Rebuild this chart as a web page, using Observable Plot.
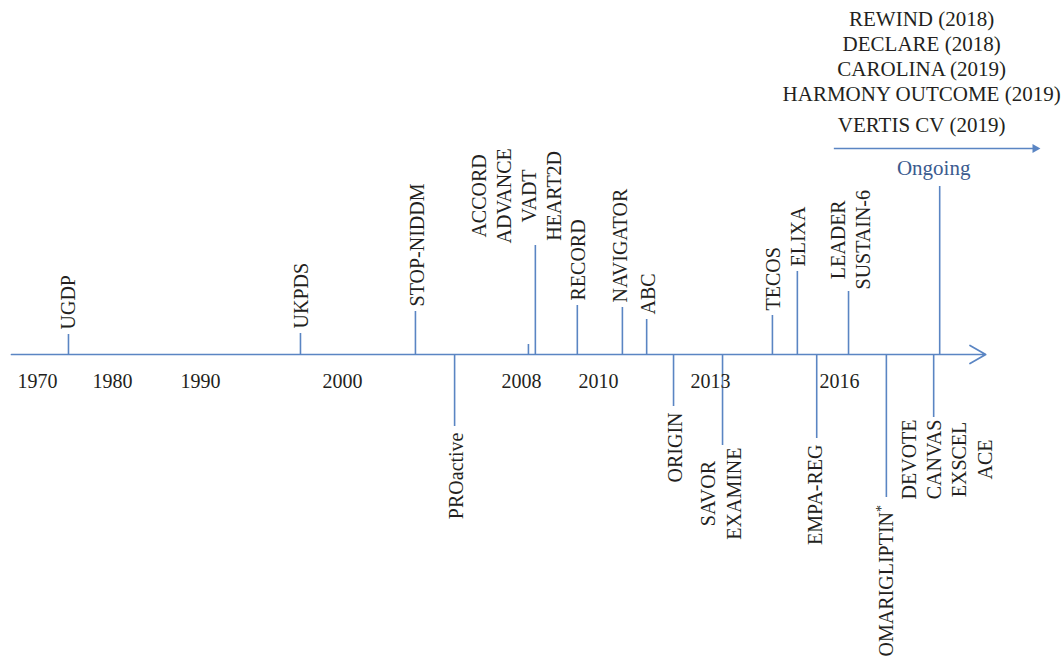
<!DOCTYPE html>
<html>
<head>
<meta charset="utf-8">
<script src="https://cdn.jsdelivr.net/npm/d3@7"></script>
<script src="https://cdn.jsdelivr.net/npm/@observablehq/plot@0.6"></script>
<style>
  body { margin: 0; background: #fff; }
  #chart svg { display: block; }
</style>
</head>
<body>
<div id="chart"></div>
<script>
// ---- Data ----
// Trials (a "\n" separates trials that share one stem)
const trialLabels = [
  "UGDP", "UKPDS", "STOP-NIDDM", "PROactive", "",
  "ACCORD\nADVANCE\nVADT\nHEART2D", "RECORD", "NAVIGATOR", "ABC",
  "ORIGIN", "SAVOR\nEXAMINE", "TECOS", "ELIXA", "EMPA-REG",
  "LEADER\nSUSTAIN-6", "OMARIGLIPTIN*", "DEVOTE\nCANVAS\nEXSCEL\nACE"
];
// position of each stem on the timeline (years)
const trialYears = [
  1974.13, 1997.04, 2003.26, 2005.01, 2008.18,
  2008.36, 2009.45, 2010.64, 2011.29,
  2012.01, 2013.28, 2014.44, 2015.02, 2015.47,
  2016.21, 2017.09, 2018.19
];
// stem height (positive = above the timeline, negative = below)
const trialLevels = [
  20, 21, 43, -72, 10,
  109, 49, 47, 35,
  -52, -91, 39, 83, -84,
  63, -143, -63
];
// timeline year where each label block is centred
const labelYears = [
  1973.9, 1997.0, 2003.26, 2005.03, 2008.18,
  2007.73, 2009.45, 2010.54, 2011.29,
  2012.01, 2013.22, 2014.44, 2015.02, 2015.40,
  2016.24, 2017.05, 2018.47
];

// timeline tick labels and where they sit on the (non-linear) axis
const tickYears = [1970, 1980, 1990, 2000, 2008, 2010, 2013, 2016];
const tickPixels = [37, 112, 200, 342, 521, 598, 710, 839];

// ongoing trials
const ongoingLabel = "Ongoing";
const ongoingYear = 2018.33;
const ongoingLevel = 168;
const ongoingLabelYear = 2018.19;
const ongoingArrowSpan = [2015.88, 2020.67];
const ongoingListYear = 2017.91;
const ongoingTrials = [
  "REWIND (2018)", "DECLARE (2018)", "CAROLINA (2019)",
  "HARMONY OUTCOME (2019)", "VERTIS CV (2019)"
];
const axisSpan = [1966.53, 2019.40];

// ---- Styling ----
const FONT = "Liberation Serif";
const FS = 20;
const FS_TOP = 21;
const LINE = "#5a85c3";
const TEXT = "#231f20";
const ONGOING = "#3b5b8f";

// measure text to place label blocks next to their stems
const ctx = document.createElement("canvas").getContext("2d");
ctx.font = `${FS}px "${FONT}"`;
const maxWidth = s => d3.max(s.split("\n"), l => ctx.measureText(l).width);

const trials = trialLabels.map((label, i) => {
  const lvl = trialLevels[i];
  const multi = label.includes("\n");
  const gap = multi ? 2 : (lvl > 0 ? 5 : 6);
  const half = label ? maxWidth(label) / 2 : 0;
  return {
    label,
    year: trialYears[i],
    level: lvl,
    labelYear: labelYears[i],
    labelLevel: lvl > 0 ? lvl + gap + half : lvl - gap - half
  };
});
const labelled = trials.filter(d => d.label);

const ongoingList = ongoingTrials.map((t, i) => ({
  text: t,
  level: ongoingLevel + 61 + (i < ongoingTrials.length - 1 ? 31 + (ongoingTrials.length - 2 - i) * 25 : 0)
}));
const arrowLevel = ongoingLevel + 38;

const chart = Plot.plot({
  width: 1064,
  height: 661,
  margin: 0,
  style: { fontFamily: FONT, background: "#fff" },
  x: { type: "linear", domain: tickYears, range: tickPixels, axis: null },
  y: { type: "linear", domain: [-307, 354], range: [661, 0], axis: null },
  marks: [
    // main timeline with open arrow head
    Plot.arrow([0], {
      x1: axisSpan[0], x2: axisSpan[1], y1: 0, y2: 0,
      stroke: LINE, strokeWidth: 1.7, headLength: 16, headAngle: 60
    }),
    // stems
    Plot.ruleX(trials, {
      x: "year", y1: 0, y2: "level", stroke: LINE, strokeWidth: 1.6
    }),
    // trial labels
    Plot.text(labelled, {
      x: "labelYear", y: "labelLevel", text: "label",
      rotate: -90, textAnchor: "middle", lineAnchor: "middle",
      lineHeight: 1.26, fontSize: FS, fill: TEXT
    }),
    // year labels under the axis
    Plot.text(tickYears, {
      x: d => d, y: -27, text: d => String(d),
      fontSize: FS, fill: TEXT, lineAnchor: "middle"
    }),
    // ongoing stem
    Plot.ruleX([ongoingYear], {
      x: d => d, y1: 0, y2: ongoingLevel, stroke: LINE, strokeWidth: 1.6
    }),
    Plot.text([ongoingLabel], {
      x: ongoingLabelYear, y: ongoingLevel + 18, text: d => d,
      fontSize: FS_TOP, fill: ONGOING, lineAnchor: "middle"
    }),
    // ongoing arrow with filled head
    Plot.ruleY([arrowLevel], {
      x1: ongoingArrowSpan[0], x2: ongoingArrowSpan[1] - 0.15, y: d => d,
      stroke: LINE, strokeWidth: 1.6
    }),
    Plot.dot([arrowLevel], {
      x: ongoingArrowSpan[1] - 0.12, y: d => d, symbol: "triangle",
      r: 3.4, rotate: 90, fill: LINE, stroke: "none"
    }),
    // list of ongoing trials
    Plot.text(ongoingList, {
      x: ongoingListYear, y: "level", text: "text",
      fontSize: FS_TOP, fill: TEXT, lineAnchor: "middle"
    })
  ]
});

// render the asterisk of OMARIGLIPTIN* as a superscript
d3.select(chart).selectAll("text, tspan")
  .filter(function () { return this.childElementCount === 0 && this.textContent === "OMARIGLIPTIN*"; })
  .each(function () {
    const el = d3.select(this);
    el.text("OMARIGLIPTIN");
    el.append("tspan").attr("dy", "-0.45em").attr("font-size", 14).text("*");
  });

document.getElementById("chart").appendChild(chart);
</script>
</body>
</html>
